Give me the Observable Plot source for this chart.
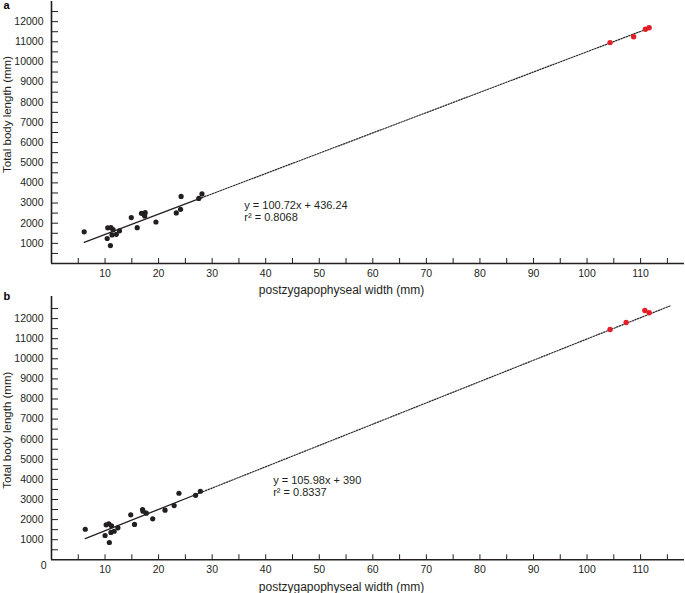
<!DOCTYPE html>
<html><head><meta charset="utf-8">
<script src="https://cdn.jsdelivr.net/npm/d3@7"></script>
<script src="https://cdn.jsdelivr.net/npm/@observablehq/plot@0.6"></script>
<style>
body{margin:0;background:#fff;}
#wrap{position:relative;width:685px;height:593px;}
#wrap svg{position:absolute;left:0;}
</style></head><body><div id="wrap"></div>
<script>
// ---- Panel a data ----
const aBlackX = [6.1,10.5,11.1,11.5,10.4,11.0,11.3,12.1,12.7,14.9,16.0,16.8,17.5,17.4,19.5,23.3,24.1,24.2,27.5,28.1];
const aBlackY = [1570,1770,1780,1680,1240,890,1420,1450,1620,2280,1780,2490,2520,2360,2060,2510,2690,3330,3230,3450];
const aRedX = [104.3,108.7,110.9,111.6];
const aRedY = [10960,11250,11620,11700];
const aSlope = 100.72, aIntercept = 436.24;
const aSolidX = [6.1, 28.1];
const aDotX = [28.1, 111.6];
const aEquation = "y = 100.72x + 436.24\nr² = 0.8068";

// ---- Panel b data ----
const bBlackX = [6.3,10.0,10.2,10.7,11.2,10.8,11.1,11.7,12.4,14.8,15.5,17.0,17.1,17.7,18.9,21.2,22.9,23.8,26.9,27.8];
const bBlackY = [1520,1210,1740,1790,1690,860,1360,1420,1590,2240,1760,2500,2420,2320,2040,2470,2700,3310,3210,3410];
const bRedX = [104.3,107.3,110.8,111.6];
const bRedY = [11460,11810,12400,12290];
const bSlope = 105.98, bIntercept = 390;
const bSolidX = [6.3, 27.8];
const bDotX = [27.8, 115.6];
const bEquation = "y = 105.98x + 390\nr² = 0.8337";

// ---- Axis ticks ----
const xTickLabels = [10,20,30,40,50,60,70,80,90,100,110];
const xTicks = [5,10,15,20,25,30,35,40,45,50,55,60,65,70,75,80,85,90,95,100,105,110,115];
const yTickLabels = [1000,2000,3000,4000,5000,6000,7000,8000,9000,10000,11000,12000];
const yTicks = [500,1000,1500,2000,2500,3000,3500,4000,4500,5000,5500,6000,6500,7000,7500,8000,8500,9000,9500,10000,10500,11000,11500,12000,12500];
const xLabel = "postzygapophyseal width (mm)";
const yLabel = "Total body length (mm)";

const FONT = "'Liberation Sans', Arial, Helvetica, sans-serif";
const INK = "#231f20";
const RED = "#e41e26";

function panel(p) {
  const W = 685, ML = 51, MR = 1;
  const frameH = p.height - p.marginTop - p.marginBottom;
  const frameW = W - ML - MR;
  const black = p.bx.map((x, i) => ({x, y: p.by[i]}));
  const red = p.rx.map((x, i) => ({x, y: p.ry[i]}));
  const fit = xs => xs.map(x => ({x, y: p.slope * x + p.intercept}));
  const marks = [
    Plot.axisX(xTickLabels, {tickSize: 0, tickPadding: 6, fontSize: 10.5, label: null, tickFormat: d => String(d)}),
    Plot.axisY(yTickLabels, {tickSize: 0, tickPadding: 8, fontSize: 10.5, label: null, tickFormat: d => String(d)}),
    Plot.tickX(xTicks, {x: d => d, insetTop: frameH - 5, stroke: INK, strokeWidth: 1}),
    Plot.tickY(yTicks, {y: d => d, insetRight: frameW - 7, stroke: INK, strokeWidth: 1}),
    Plot.ruleY([0], {stroke: INK, strokeWidth: 1.6}),
    Plot.ruleX([0], {stroke: INK, strokeWidth: 1.6}),
    Plot.line(fit(p.dotX), {x: "x", y: "y", stroke: "#2a2a2a", strokeWidth: 1.2, strokeDasharray: "1.4,1.4"}),
    Plot.line(fit(p.solidX), {x: "x", y: "y", stroke: INK, strokeWidth: 1.3}),
    Plot.dot(black, {x: "x", y: "y", r: 2.6, fill: INK, stroke: "none"}),
    Plot.dot(red, {x: "x", y: "y", r: 2.7, fill: RED, stroke: "none"}),
    Plot.text([p.eq], {text: d => d, x: p.eqX, y: p.eqY, textAnchor: "start", lineAnchor: "middle", fontSize: 11, lineHeight: 1.1, fill: INK}),
    Plot.text([p.label], {text: d => d, frameAnchor: "top-left", dx: -48, dy: p.labelDy, textAnchor: "start", lineAnchor: p.labelAnchor, fontSize: 11, fontWeight: "bold", fill: "#000"}),
    Plot.text([xLabel], {text: d => d, frameAnchor: "bottom", dx: -26.5, dy: 27, lineAnchor: "middle", fontSize: 12, fill: INK}),
    Plot.text([yLabel], {text: d => d, frameAnchor: "left", rotate: -90, dx: -44, dy: p.yLabelDy, textAnchor: "middle", lineAnchor: "middle", fontSize: 11.5, fill: INK})
  ];
  if (p.showZero) {
    marks.push(Plot.text([{x: 0, y: 0, t: "0"}], {x: "x", y: "y", text: "t", dx: -5, dy: 6, textAnchor: "end", lineAnchor: "middle", fontSize: 10.5, fill: INK}));
  }
  const svg = Plot.plot({
    width: W, height: p.height,
    marginLeft: ML, marginRight: MR, marginTop: p.marginTop, marginBottom: p.marginBottom,
    style: {background: "transparent", fontFamily: FONT, color: INK, overflow: "visible"},
    x: {domain: [0, 118.2]},
    y: {domain: [0, p.yMax]},
    marks
  });
  svg.style.top = p.top + "px";
  return svg;
}

const wrap = document.getElementById("wrap");
wrap.appendChild(panel({
  label: "a", labelDy: 0, labelAnchor: "top",
  bx: aBlackX, by: aBlackY, rx: aRedX, ry: aRedY,
  slope: aSlope, intercept: aIntercept, solidX: aSolidX, dotX: aDotX,
  eq: aEquation, eqX: 36, eqY: 2620,
  yMax: 13000, top: 0, height: 296, marginTop: 1, marginBottom: 33,
  yLabelDy: -18, showZero: false
}));
wrap.appendChild(panel({
  label: "b", labelDy: 0, labelAnchor: "middle",
  bx: bBlackX, by: bBlackY, rx: bRedX, ry: bRedY,
  slope: bSlope, intercept: bIntercept, solidX: bSolidX, dotX: bDotX,
  eq: bEquation, eqX: 41.4, eqY: 3680,
  yMax: 13100, top: 286, height: 307, marginTop: 10, marginBottom: 33.7,
  yLabelDy: 2, showZero: true
}));
</script></body></html>
